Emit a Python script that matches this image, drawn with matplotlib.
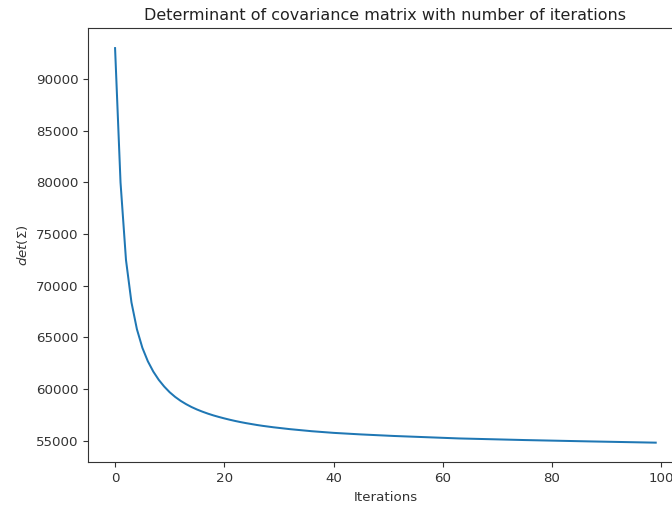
import numpy as np
import matplotlib
matplotlib.use('Agg')
import matplotlib.pyplot as plt

# Valores: det(Sigma) por iteração
iteracoes = list(range(100))
det_sigma = [
    93000, 80000, 72500, 68400, 65800, 64000, 62700, 61700, 60900, 60250,
    59700, 59250, 58870, 58550, 58270, 58030, 57820, 57630, 57460, 57310,
    57170, 57040, 56920, 56810, 56710, 56620, 56530, 56450, 56380, 56310,
    56250, 56190, 56130, 56080, 56030, 55980, 55930, 55890, 55850, 55810,
    55770, 55740, 55710, 55680, 55650, 55620, 55595, 55570, 55545, 55520,
    55495, 55470, 55450, 55430, 55410, 55390, 55370, 55350, 55330, 55310,
    55290, 55270, 55250, 55230, 55217, 55204, 55191, 55178, 55165, 55152,
    55139, 55126, 55113, 55100, 55087, 55074, 55063, 55052, 55041, 55030,
    55019, 55008, 54997, 54986, 54975, 54964, 54953, 54942, 54932, 54922,
    54912, 54902, 54892, 54882, 54872, 54862, 54852, 54842, 54832, 54822,
]
x_ticks = [0, 20, 40, 60, 80, 100]
y_ticks = [55000, 60000, 65000, 70000, 75000, 80000, 85000, 90000]

fig = plt.figure(figsize=(6.72, 5.07), dpi=100)
# eixo estendido além da borda direita (imagem original recortada)
ax = fig.add_axes([0.131, 0.088, 0.885, 0.856])
ax.plot(iteracoes, det_sigma, color='#1f77b4', linewidth=1.45)
ax.set_xticks(x_ticks)
ax.set_yticks(y_ticks)
ax.tick_params(labelsize=9.6, colors='#333333', labelcolor='#333333')
ax.set_xlabel('Iterations', fontsize=9.6, color='#333333')
ax.set_ylabel(r'$det(\Sigma)$', fontsize=9.6, color='#333333')
ax.set_title('Determinant of covariance matrix with number of iterations', fontsize=11.5, color='#222222')
for s in ax.spines.values():
    s.set_color('#333333')

fig.savefig('out.png', dpi=100)
